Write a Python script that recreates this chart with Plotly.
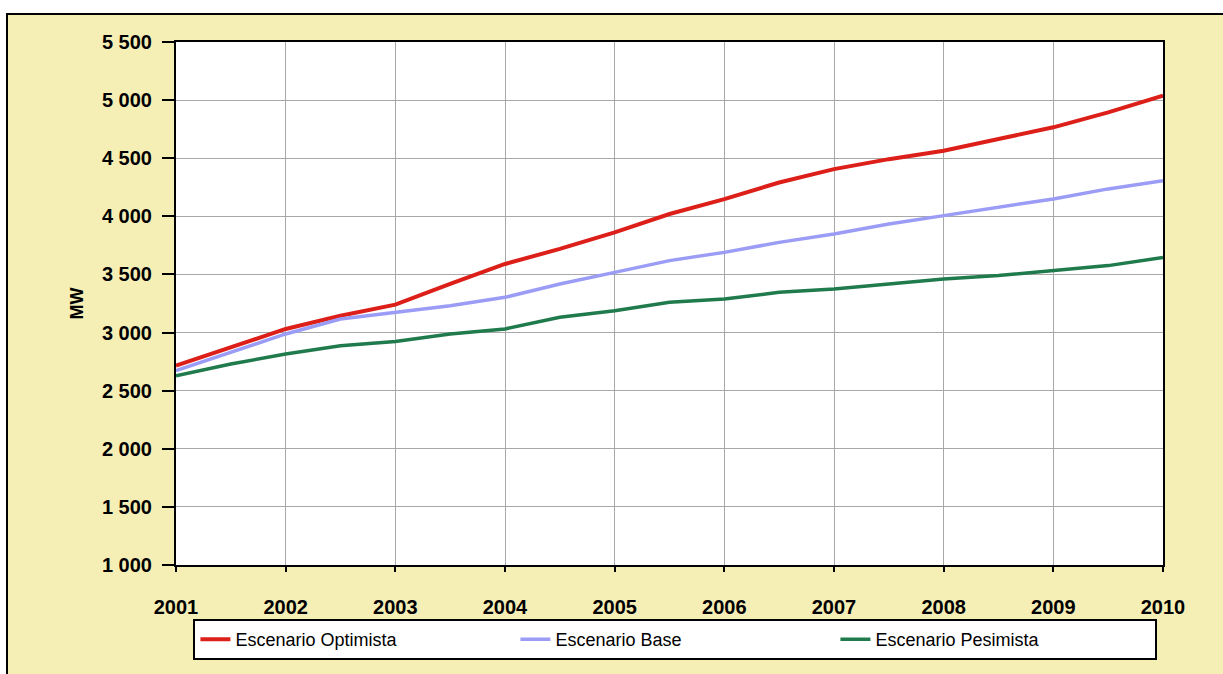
import plotly.graph_objects as go

# ---- data ----
years = [2001, 2001.5, 2002, 2002.5, 2003, 2003.5, 2004, 2004.5, 2005, 2005.5,
         2006, 2006.5, 2007, 2007.5, 2008, 2008.5, 2009, 2009.5, 2010]
optimista = [2715, 2873, 3031, 3145, 3240, 3418, 3590, 3720, 3862, 4020,
             4148, 4291, 4406, 4492, 4565, 4665, 4766, 4895, 5039]
base = [2672, 2830, 2988, 3117, 3174, 3231, 3303, 3418, 3518, 3619,
        3690, 3776, 3848, 3934, 4006, 4077, 4150, 4236, 4307]
pesimista = [2629, 2730, 2815, 2887, 2924, 2988, 3031, 3131, 3188, 3260,
             3289, 3346, 3375, 3418, 3461, 3490, 3533, 3576, 3647]
series_names = ["Escenario Optimista", "Escenario Base", "Escenario Pesimista"]
year_ticks = [2001, 2002, 2003, 2004, 2005, 2006, 2007, 2008, 2009, 2010]
y_ticks = [1000, 1500, 2000, 2500, 3000, 3500, 4000, 4500, 5000, 5500]

# ---- layout constants ----
W, H = 1223, 674
ML, MR, MT, MB = 176, 60, 42, 109
PW, PH = W - ML - MR, H - MT - MB
FONT = "Liberation Sans, Arial, sans-serif"

def px_to_paper_x(px):
    return (px - ML) / PW

def px_to_paper_y(py):
    return (H - MB - py) / PH

fig = go.Figure()
styles = [("#dd1f1a", 4), ("#9a9cf6", 3.5), ("#1f7a4c", 3.5)]
for name, vals, (col, w) in zip(series_names, [optimista, base, pesimista], styles):
    fig.add_trace(go.Scatter(x=years, y=vals, mode="lines", name=name,
                             line=dict(color=col, width=w)))

# yellow panel with black border
fig.add_shape(type="rect", xref="paper", yref="paper", layer="below",
              x0=px_to_paper_x(7), x1=px_to_paper_x(W + 20),
              y0=px_to_paper_y(H + 20), y1=px_to_paper_y(14),
              fillcolor="#f5efb6", line=dict(color="black", width=2))
# white plot area on top of the panel
fig.add_shape(type="rect", xref="paper", yref="paper", layer="below",
              x0=0, x1=1, y0=0, y1=1,
              fillcolor="white", line=dict(width=0))

fig.update_layout(
    width=W, height=H,
    margin=dict(l=ML, r=MR, t=MT, b=MB, autoexpand=False),
    paper_bgcolor="white",
    plot_bgcolor="white",
    separators=", ",
    font=dict(family=FONT, color="black"),
    showlegend=True,
    legend=dict(orientation="h", x=0.506, xanchor="center",
                y=px_to_paper_y(619), yanchor="top",
                bgcolor="white", bordercolor="black", borderwidth=2,
                font=dict(family=FONT, size=18, color="black"),
                entrywidth=275, entrywidthmode="pixels",
                traceorder="normal"),
    xaxis=dict(range=[2001, 2010], tickvals=year_ticks, tickformat="d",
               showgrid=True, gridcolor="#a8a8a8", gridwidth=1,
               showline=True, linecolor="black", linewidth=2, mirror=True,
               ticks="outside", ticklen=5, tickcolor="black", tickwidth=2,
               ticklabelstandoff=18,
               tickfont=dict(family=FONT, size=20, color="black", weight="bold"),
               zeroline=False),
    yaxis=dict(range=[1000, 5500], tickvals=y_ticks, tickformat=",d",
               showgrid=True, gridcolor="#a8a8a8", gridwidth=1,
               showline=True, linecolor="black", linewidth=2, mirror=True,
               ticks="outside", ticklen=12, tickcolor="black", tickwidth=2,
               ticklabelstandoff=6,
               tickfont=dict(family=FONT, size=20, color="black", weight="bold"),
               title=dict(text="MW", standoff=14,
                          font=dict(family=FONT, size=18, color="black", weight="bold")),
               zeroline=False),
)

fig.write_html("out.html",
               config={"displayModeBar": False},
               post_script="document.body.style.margin='0';document.body.style.overflow='hidden';")
